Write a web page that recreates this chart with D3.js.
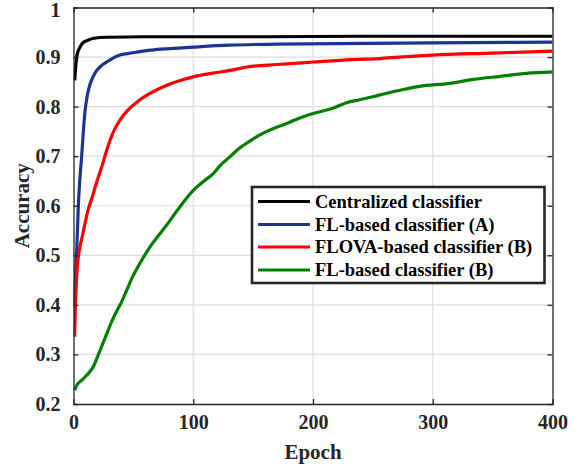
<!DOCTYPE html>
<html><head><meta charset="utf-8">
<script src="https://cdn.jsdelivr.net/npm/d3@7"></script>
<style>html,body{margin:0;padding:0;background:#fff;}svg{display:block;}
svg text{font-family:"Liberation Serif","Times New Roman",Tinos,"DejaVu Serif",serif;font-weight:bold;}</style>
</head><body>
<svg id="chart" width="582" height="467"></svg>
<script>
const xTicks = [0, 100, 200, 300, 400];
const yTicks = [0.2, 0.3, 0.4, 0.5, 0.6, 0.7, 0.8, 0.9, 1];
const seriesNames = ["Centralized classifier", "FL-based classifier (A)", "FLOVA-based classifier (B)", "FL-based classifier (B)"];
const seriesColors = ["#000000", "#1c3391", "#ff0000", "#008000"];

const centralized = [[1,0.853],[2,0.885],[3,0.905],[5,0.918],[8,0.929],[12,0.934],[17,0.938],[28,0.940],[60,0.941],[150,0.941],[250,0.942],[400,0.942]];
const flA = [[0.5,0.40],[1.5,0.45],[2.7,0.51],[4,0.598],[5.5,0.66],[6.8,0.699],[7.7,0.732],[9.6,0.790],[11.5,0.822],[13.8,0.845],[16.5,0.861],[19.4,0.873],[23,0.882],[27.7,0.890],[33,0.898],[38.8,0.904],[45,0.907],[52.8,0.910],[65,0.914],[80.6,0.917],[100,0.920],[130,0.924],[170,0.926],[220,0.927],[273,0.928],[330,0.929],[400,0.930]];
const flovaB = [[1,0.336],[1.5,0.39],[2.1,0.43],[3.2,0.477],[5.4,0.517],[7.5,0.54],[9.6,0.564],[12,0.59],[15.2,0.614],[19,0.645],[23.5,0.678],[27,0.706],[30.5,0.732],[34.5,0.755],[38.8,0.773],[45,0.792],[52.8,0.809],[62,0.824],[75,0.840],[87,0.851],[100,0.860],[115,0.867],[130.7,0.873],[145,0.880],[170,0.885],[200,0.890],[233,0.895],[256,0.897],[272,0.900],[300,0.904],[350,0.908],[400,0.912]];
const flB = [[1,0.228],[2.7,0.238],[7,0.248],[11,0.258],[16.5,0.275],[20,0.295],[23.5,0.316],[27.5,0.340],[31.9,0.366],[36,0.387],[40.2,0.406],[44.5,0.430],[48.6,0.453],[56,0.486],[63.9,0.517],[71,0.540],[77.8,0.561],[88.9,0.598],[100,0.631],[108,0.648],[116.7,0.665],[122,0.680],[130.7,0.699],[139,0.717],[147,0.730],[155.7,0.743],[166,0.755],[178,0.766],[189,0.777],[200,0.786],[217,0.797],[228,0.808],[239,0.814],[250,0.820],[260,0.826],[272.6,0.833],[289,0.841],[314,0.847],[334,0.855],[356,0.861],[378.5,0.867],[400,0.870]];
const allSeries = [centralized, flA, flovaB, flB];

const svg = d3.select("#chart");
const L = 73.5, R = 552.5, T = 7.5, B = 404;
const x = d3.scaleLinear().domain([0, 400]).range([L, R]);
const y = d3.scaleLinear().domain([0.2, 1]).range([B, T]);
const axisColor = "#262626";
const font = '"Liberation Serif","Times New Roman",Tinos,"DejaVu Serif",serif';

// grid
const grid = svg.append("g");
grid.selectAll("line.gx").data(xTicks.slice(1, -1)).enter().append("line")
  .attr("x1", d => x(d)).attr("x2", d => x(d)).attr("y1", T).attr("y2", B)
  .attr("stroke", "#dedede").attr("stroke-width", 1.2);
grid.selectAll("line.gy").data(yTicks.slice(1, -1)).enter().append("line")
  .attr("y1", d => y(d)).attr("y2", d => y(d)).attr("x1", L).attr("x2", R)
  .attr("stroke", "#dedede").attr("stroke-width", 1.2);

// curves
const line = d3.line().x(d => x(d[0])).y(d => y(d[1])).curve(d3.curveMonotoneX);
svg.append("clipPath").attr("id", "clip").append("rect")
  .attr("x", L).attr("y", T).attr("width", R - L).attr("height", B - T);
svg.append("g").attr("clip-path", "url(#clip)").selectAll("path").data(allSeries).enter().append("path")
  .attr("d", line).attr("fill", "none")
  .attr("stroke", (d, i) => seriesColors[i]).attr("stroke-width", 3.2)
  .attr("stroke-linejoin", "round").attr("stroke-linecap", "butt");

// axes
const tickLen = 5;
const axB = svg.append("g").attr("transform", `translate(0,${B})`)
  .call(d3.axisBottom(x).tickValues(xTicks).tickSize(-tickLen).tickPadding(11).tickFormat(d3.format("d")));
const axT = svg.append("g").attr("transform", `translate(0,${T})`)
  .call(d3.axisTop(x).tickValues(xTicks).tickSize(-tickLen).tickFormat(""));
const axL = svg.append("g").attr("transform", `translate(${L},0)`)
  .call(d3.axisLeft(y).tickValues(yTicks).tickSize(-tickLen).tickPadding(13).tickFormat(d => d === 1 ? "1" : d3.format(".1f")(d)));
const axR = svg.append("g").attr("transform", `translate(${R},0)`)
  .call(d3.axisRight(y).tickValues(yTicks).tickSize(-tickLen).tickFormat(""));
[axB, axT, axL, axR].forEach(a => {
  a.attr("font-family", font);
  a.select(".domain").attr("stroke", axisColor).attr("stroke-width", 1.3);
  a.selectAll(".tick line").attr("stroke", axisColor).attr("stroke-width", 1.3);
  a.selectAll(".tick text").attr("fill", axisColor).attr("font-family", font)
    .attr("font-size", 20).attr("font-weight", "bold");
});
axB.selectAll(".tick text").attr("dy", "0.71em");
axL.selectAll(".tick").filter(d => d === 1).select("text").attr("dy", "0.45em");
[axB, axT].forEach(a => a.selectAll(".tick").filter(d => d === 0 || d === 400).select("line").remove());
[axL, axR].forEach(a => a.selectAll(".tick").filter(d => d === 0.2 || d === 1).select("line").remove());

// axis labels
svg.append("text").attr("x", (L + R) / 2).attr("y", 459).attr("text-anchor", "middle")
  .attr("fill", axisColor).attr("font-family", font).attr("font-size", 21).attr("font-weight", "bold").text("Epoch");
svg.append("text").attr("transform", `translate(29,${(T + B) / 2}) rotate(-90)`).attr("text-anchor", "middle")
  .attr("fill", axisColor).attr("font-family", font).attr("font-size", 21).attr("font-weight", "bold").text("Accuracy");

// legend
const lg = svg.append("g");
lg.append("rect").attr("x", 252).attr("y", 187).attr("width", 292.5).attr("height", 96)
  .attr("fill", "#fff").attr("stroke", "#262626").attr("stroke-width", 2.6);
const rowY = [201.5, 224.5, 247, 270];
seriesNames.forEach((name, i) => {
  lg.append("line").attr("x1", 258).attr("x2", 310).attr("y1", rowY[i]).attr("y2", rowY[i])
    .attr("stroke", seriesColors[i]).attr("stroke-width", 3.2);
  lg.append("text").attr("x", 315).attr("y", rowY[i]).attr("dy", "0.35em")
    .attr("fill", "#000").attr("font-family", font).attr("font-size", 18.5).attr("font-weight", "bold").text(name);
});
</script>
</body></html>
